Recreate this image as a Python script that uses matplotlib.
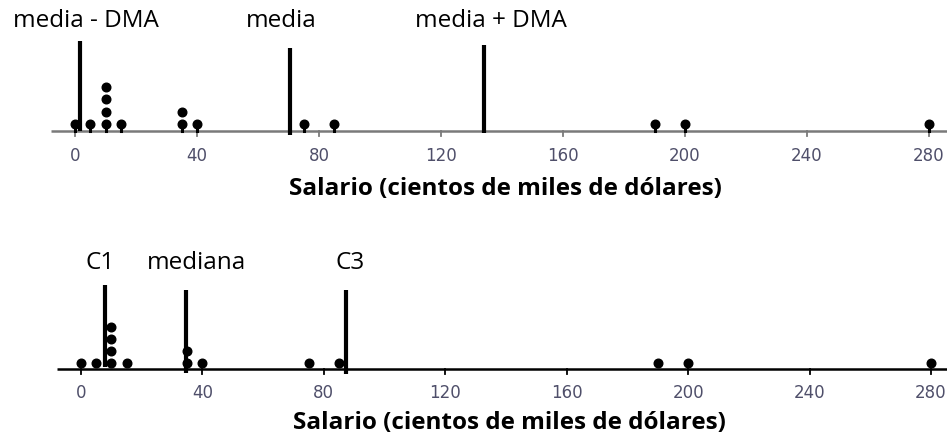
import numpy as np
import matplotlib
matplotlib.use("Agg")
import matplotlib.pyplot as plt

# Salaries (hundreds of thousands of dollars) and how many people earn each
salary_values = [0, 5, 10, 15, 35, 40, 75, 85, 190, 200, 280]
salary_counts = [1, 1, 4, 1, 2, 1, 1, 1, 1, 1, 1]

tick_values = [0, 40, 80, 120, 160, 200, 240, 280]
axis_title = "Salario (cientos de miles de dólares)"

# Reference markers for the two panels
spread_labels = ["media - DMA", "media", "media + DMA"]
spread_marks = [1.5, 70.5, 134.0]

quartile_labels = ["C1", "mediana", "C3"]
quartile_marks = [7.8, 34.6, 87.3]

W, H = 947, 438
DPI = 100
fig = plt.figure(figsize=(W / DPI, H / DPI), dpi=DPI)
fig.patch.set_facecolor("white")

label_font = ["Open Sans", "DejaVu Sans"]


def make_panel(top_px, bottom_px, axis_px, x0_px, x280_px):
    """Axes whose y unit is one pixel, with the number line at y=0."""
    ax = fig.add_axes([0, 1 - bottom_px / H, 1, (bottom_px - top_px) / H])
    scale = (x280_px - x0_px) / 280.0
    ax.set_xlim(-x0_px / scale, (W - x0_px) / scale)
    ax.set_ylim(axis_px - bottom_px, axis_px - top_px)
    ax.axis("off")
    return ax


def draw_panel(ax, line_color, stems, dot_y0, dot_step, marks, mark_tops,
               mark_bottoms, labels, label_pos, tick_y, title_y, line_start):
    xmin, xmax = ax.get_xlim()
    ax.plot([line_start, xmax], [0, 0], color=line_color, lw=1.8,
            solid_capstyle="butt", zorder=1)
    for t in tick_values:
        ax.plot([t, t], [0, -5], color=line_color, lw=1.3, zorder=1)
        ax.text(t, tick_y, str(t), ha="center", va="center", fontsize=12,
                color="#4f4f6a", family="DejaVu Sans")

    for v, n in zip(salary_values, salary_counts):
        ys = dot_y0 + dot_step * np.arange(n)
        if stems:
            ax.plot([v, v], [0, dot_y0], color="black", lw=2.2, zorder=3)
        ax.plot(np.full(n, v), ys, "o", color="black", ms=6.2, mec="black",
                zorder=3)

    for m, top, bot in zip(marks, mark_tops, mark_bottoms):
        ax.plot([m, m], [bot, top], color="black", lw=3.0,
                solid_capstyle="butt", zorder=4)

    for lab, (lx, ly) in zip(labels, label_pos):
        ax.text(lx, ly, lab, ha="center", va="center", fontsize=17.5,
                family=label_font, color="black")

    ax.text(141.0, title_y, axis_title, ha="center", va="center",
            fontsize=17.5, fontweight="bold", family=label_font,
            color="black")


# Upper panel: mean and mean absolute deviation
ax1 = make_panel(0, 219, 131, 75, 929)
draw_panel(
    ax1, "#7a7a7a", True, 7, 12.3, spread_marks,
    mark_tops=[90, 83, 86], mark_bottoms=[0, -4, -2],
    labels=spread_labels,
    label_pos=[(3.5, 110), (67.5, 110), (136.5, 110)],
    tick_y=-25, title_y=-58, line_start=-8.0,
)

# Lower panel: quartiles
ax2 = make_panel(219, 438, 369, 81, 931)
draw_panel(
    ax2, "black", False, 6.5, 12.0, quartile_marks,
    mark_tops=[84, 79, 79], mark_bottoms=[2, -4, -5],
    labels=quartile_labels,
    label_pos=[(6.3, 106), (38.2, 106), (88.5, 106)],
    tick_y=-24, title_y=-54, line_start=-8.0,
)

fig.savefig("out.png", dpi=DPI, facecolor="white")
